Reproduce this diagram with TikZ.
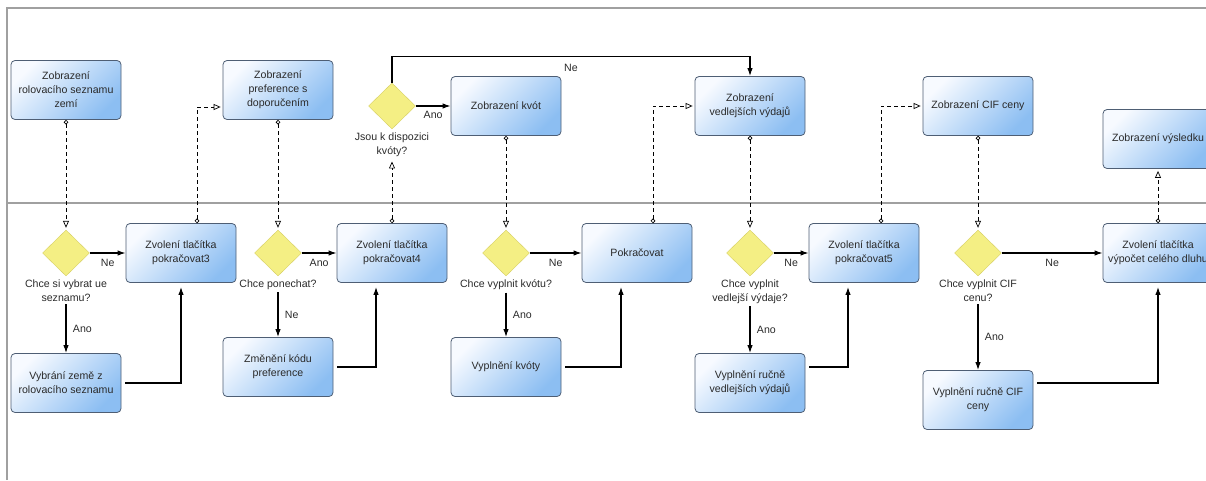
\documentclass[tikz,border=0pt]{standalone}
\usepackage{fontspec}
\setmainfont{Liberation Sans}
\usepackage{xcolor}
\usetikzlibrary{shapes, arrows.meta, positioning, calc}
\definecolor{taskline}{HTML}{4E5E74}
\definecolor{tasklight}{HTML}{F7FAFF}
\definecolor{taskdark}{HTML}{8CBEF2}
\definecolor{gatefill}{HTML}{F4EF84}
\definecolor{gateline}{HTML}{D6CE62}
\definecolor{lane}{HTML}{A0A0A0}
\definecolor{ink}{HTML}{2A2A2A}
\tikzset{
    task/.style={
        rectangle,
        rounded corners=4pt,
        draw=taskline,
        line width=0.8pt,
        top color=tasklight,
        bottom color=taskdark,
        shading angle=45,
        minimum width=110pt,
        minimum height=59pt,
        align=center,
    },
    gate/.style={
        diamond,
        draw=gateline,
        fill=gatefill,
        minimum width=47pt,
        minimum height=46pt,
        inner sep=0pt,
    },
    quest/.style={
        align=center,
        inner sep=3pt,
    },
    flow/.style={
        -{Latex[length=8pt,width=5.5pt]},
        line width=1.2pt,
    },
    msg/.style={
        {Circle[open,length=4.5pt]}-{Triangle[open,length=7pt,width=6pt]},
        dash pattern=on 4pt off 3pt,
        line width=0.7pt,
        shorten >=2pt,
    },
}

\begin{document}
\begin{tikzpicture}[x=1pt, y=-1pt, font=\fontsize{10.6}{14}\selectfont, text=ink]
      \useasboundingbox (0,0) rectangle (1206,480);
      \clip (0,0) rectangle (1206,480);

      \draw[lane, line width=1.5pt] (7,480) -- (7,8) -- (1206,8);
      \draw[lane, line width=1.5pt] (7,203) -- (1206,203);

      \node[task] (za) at (66,90) {Zobrazení\\rolovacího seznamu\\zemí};
      \node[task] (zb) at (278,90) {Zobrazení\\preference s\\doporučením};
      \node[gate] (d0) at (392,106) {};
      \node[quest, below=0pt of d0] (q0) {Jsou k dispozici\\kvóty?};
      \node[task] (zc) at (506,106) {Zobrazení kvót};
      \node[task] (zd) at (750,106) {Zobrazení\\vedlejších výdajů};
      \node[task] (ze) at (978,106) {Zobrazení CIF ceny};
      \node[task] (zf) at (1158,139) {Zobrazení výsledku};

      \node[gate] (d1) at (66,253) {};
      \node[quest, below=0pt of d1] (q1) {Chce si vybrat ue\\seznamu?};
      \node[task] (z3) at (181,253) {Zvolení tlačítka\\pokračovat3};
      \node[task] (v1) at (66,383) {Vybrání země z\\rolovacího seznamu};

      \node[gate] (d2) at (278,253) {};
      \node[quest, below=0pt of d2] (q2) {Chce ponechat?};
      \node[task] (z4) at (392,253) {Zvolení tlačítka\\pokračovat4};
      \node[task] (zm) at (278,367) {Změnění kódu\\preference};

      \node[gate] (d3) at (506,253) {};
      \node[quest, below=0pt of d3] (q3) {Chce vyplnit kvótu?};
      \node[task] (pk) at (637,253) {Pokračovat};
      \node[task] (vk) at (506,367) {Vyplnění kvóty};

      \node[gate] (d4) at (750,253) {};
      \node[quest, below=0pt of d4] (q4) {Chce vyplnit\\vedlejší výdaje?};
      \node[task] (z5) at (864,253) {Zvolení tlačítka\\pokračovat5};
      \node[task] (vr) at (750,383) {Vyplnění ručně\\vedlejších výdajů};

      \node[gate] (d5) at (978,253) {};
      \node[quest, below=0pt of d5] (q5) {Chce vyplnit CIF\\cenu?};
      \node[task] (zv) at (1158,253) {Zvolení tlačítka\\výpočet celého dluhu};
      \node[task] (vc) at (978,400) {Vyplnění ručně CIF\\ceny};

      \draw[flow] (d0.east) -- node[below=1pt]{Ano} (zc);
      \draw[flow] (d0.north) -- ++(0,-26) -| node[pos=0.25, below=3pt]{Ne} (zd.north);

      \draw[flow] (d1.east) -- node[below=2pt]{Ne} (z3);
      \draw[flow] (q1) -- node[right=3pt]{Ano} (v1);
      \draw[flow, shorten <=4pt, shorten >=4pt] (v1.east) -| (z3.south);

      \draw[flow] (d2.east) -- node[below=2pt]{Ano} (z4);
      \draw[flow] (q2) -- node[right=3pt]{Ne} (zm);
      \draw[flow, shorten <=4pt, shorten >=4pt] (zm.east) -| ([xshift=-16pt]z4.south);

      \draw[flow] (d3.east) -- node[below=2pt]{Ne} (pk);
      \draw[flow] (q3) -- node[right=3pt]{Ano} (vk);
      \draw[flow, shorten <=4pt, shorten >=4pt] (vk.east) -| ([xshift=-16pt]pk.south);

      \draw[flow] (d4.east) -- node[below=2pt]{Ne} (z5);
      \draw[flow] (q4) -- node[right=3pt]{Ano} (vr);
      \draw[flow, shorten <=4pt, shorten >=4pt] ([yshift=16pt]vr.east) -| ([xshift=-16pt]z5.south);

      \draw[flow] (d5.east) -- node[below=2pt]{Ne} (zv);
      \draw[flow] (q5) -- node[right=3pt]{Ano} (vc);
      \draw[flow, shorten <=4pt, shorten >=4pt] ([yshift=17pt]vc.east) -| (zv.south);

      \draw[msg] (za) -- (d1);
      \draw[msg] ([xshift=16pt]z3.north) |- ([yshift=-17pt]zb.west);
      \draw[msg] (zb) -- (d2);
      \draw[msg] (z4) -- (q0);
      \draw[msg] (zc) -- (d3);
      \draw[msg] ([xshift=16pt]pk.north) |- (zd.west);
      \draw[msg] (zd) -- (d4);
      \draw[msg] ([xshift=17pt]z5.north) |- (ze.west);
      \draw[msg] (ze) -- (d5);
      \draw[msg] (zv) -- (zf);

    \end{tikzpicture}
\end{document}
